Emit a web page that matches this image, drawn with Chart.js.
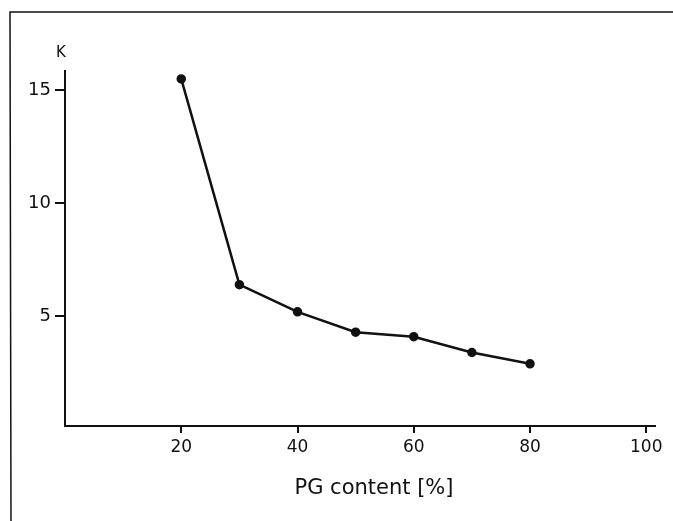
<!DOCTYPE html>
<html>
<head>
<meta charset="utf-8">
<script src="https://cdn.jsdelivr.net/npm/chart.js@4/dist/chart.umd.min.js"></script>
<style>
  html, body { margin: 0; padding: 0; background: #fff; }
  #wrap { width: 673px; height: 521px; }
</style>
</head>
<body>
<div id="wrap"><canvas id="kChart"></canvas></div>
<script>
// data
const pgContent = [20, 30, 40, 50, 60, 70, 80];
const kValues = [15.5, 6.4, 5.2, 4.3, 4.1, 3.4, 2.9];
const xTicks = [20, 40, 60, 80, 100];
const yTicks = [5, 10, 15];

const FONT = "'DejaVu Sans', sans-serif";

// frame lines + axis titles
const decor = {
    id: 'decor',
    afterDraw(chart) {
        const ctx = chart.ctx;
        ctx.save();
        ctx.strokeStyle = '#111';
        ctx.lineWidth = 1.5;
        ctx.beginPath();
        ctx.moveTo(673, 12);
        ctx.lineTo(10, 12);
        ctx.lineTo(11, 521);
        ctx.stroke();

        ctx.fillStyle = '#111';
        ctx.textAlign = 'center';
        ctx.textBaseline = 'alphabetic';
        ctx.font = "15px " + FONT;
        ctx.fillText('K', 61, 57);
        ctx.font = "21px " + FONT;
        ctx.fillText('PG content [%]', 374, 494);
        ctx.restore();
    }
};

new Chart(document.getElementById('kChart').getContext('2d'), {
    type: 'line',
    data: {
        datasets: [{
            data: pgContent.map((x, i) => ({ x: x, y: kValues[i] })),
            borderColor: '#111',
            borderWidth: 2.5,
            pointRadius: 3.5,
            pointBackgroundColor: '#111',
            pointBorderColor: '#111',
            tension: 0
        }]
    },
    options: {
        responsive: true,
        maintainAspectRatio: false,
        animation: false,
        layout: { padding: { left: 0, top: 71, right: 18, bottom: 0 } },
        plugins: { legend: { display: false }, tooltip: { enabled: false } },
        scales: {
            x: {
                type: 'linear',
                min: 0,
                max: 101.5,
                afterBuildTicks: s => { s.ticks = xTicks.map(v => ({ value: v })); },
                afterFit: s => { s.height = 95; },
                grid: { drawOnChartArea: false, drawTicks: true, tickLength: 7, color: '#111', lineWidth: 2 },
                border: { color: '#111', width: 2 },
                ticks: { color: '#111', font: { family: FONT, size: 17 }, padding: 4, maxRotation: 0 }
            },
            y: {
                min: 0.15,
                max: 15.85,
                afterBuildTicks: s => { s.ticks = yTicks.map(v => ({ value: v })); },
                afterFit: s => { s.width = 65; },
                grid: { drawOnChartArea: false, drawTicks: true, tickLength: 10, color: '#111', lineWidth: 2 },
                border: { color: '#111', width: 2 },
                ticks: { color: '#111', font: { family: FONT, size: 18 }, padding: 4 }
            }
        }
    },
    plugins: [decor]
});
</script>
</body>
</html>
